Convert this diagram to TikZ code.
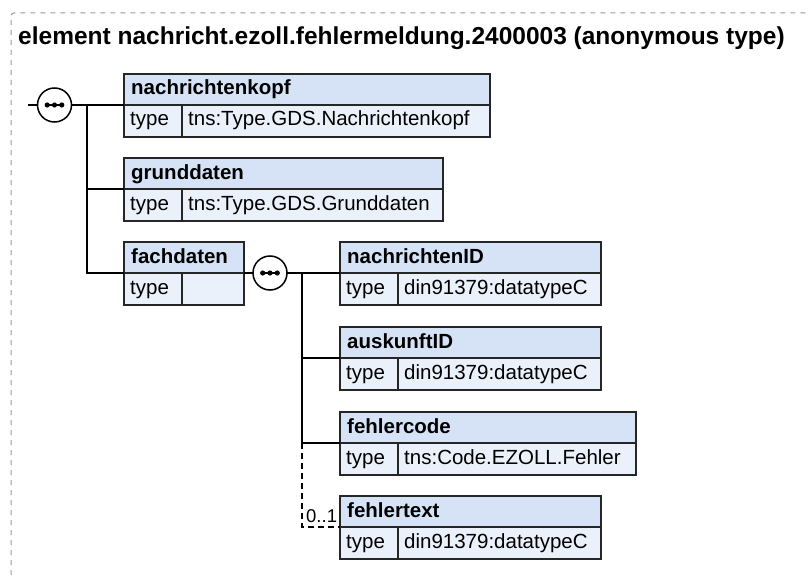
\documentclass[tikz,border=0pt]{standalone}
\usepackage{fontspec}
\setmainfont{Liberation Sans}
\definecolor{hdrfill}{HTML}{D6E3F7}
\definecolor{typefill}{HTML}{EBF1FB}
\definecolor{frameg}{HTML}{9A9A9A}
\newcommand\ebox[6]{%
  \pgfmathsetmacro\vw{#4-58}%
  \node[hdr, minimum width=#4pt] (#1) at (#2,#3) {};
  \node[ttl] (#1-n) at ([shift={(7,21)}]#1.north west) {#5};
  \node[cell, minimum width=58pt] (#1-k) at (#1.south west) {};
  \node[cell, minimum width=\vw pt] (#1-v) at (#1-k.north east) {};
  \node[txt] (#1-tk) at ([shift={(6,21)}]#1-k.north west) {type};
  \node[txt] (#1-tv) at ([shift={(6,21)}]#1-v.north west) {#6};
}
\newcommand\seqdots[1]{%
  \draw[line width=1.4pt] ([xshift=-7.3pt]#1.center) -- ([xshift=7.3pt]#1.center);
  \fill ([xshift=-7.3pt]#1.center) circle (2.6pt);
  \fill (#1.center) circle (2.6pt);
  \fill ([xshift=7.3pt]#1.center) circle (2.6pt);
}
\begin{document}
\begin{tikzpicture}[x=1pt,y=-1pt,
  boxline/.style={draw=black!85, line width=1.5pt},
  hdr/.style={boxline, fill=hdrfill, minimum height=31pt, inner sep=0pt, outer sep=0pt, anchor=north west},
  cell/.style={boxline, fill=typefill, minimum height=32pt, inner sep=0pt, outer sep=0pt, anchor=north west},
  ttl/.style={font=\fontsize{20.5}{24}\selectfont\bfseries, inner sep=0pt, anchor=base west},
  txt/.style={font=\fontsize{20.5}{24}\selectfont, inner sep=0pt, anchor=base west},
  conn/.style={line width=1.7pt, draw=black},
  seq/.style={circle, draw=black, line width=1.5pt, fill=white, minimum size=34pt, inner sep=0pt, outer sep=0pt},
]
\useasboundingbox (0,0) rectangle (808,575);
% frame
\draw[frameg, line width=1pt, dash pattern=on 5pt off 5pt, rounded corners=3pt] (11,575) -- (11,13) -- (808,13);
% title
\node[anchor=base west, inner sep=0pt, font=\fontsize{24.5}{28}\selectfont\bfseries] (title) at (18,45) {element nachricht.ezoll.fehlermeldung.2400003 (anonymous type)};
% boxes
\ebox{nk}{124}{74}{366}{nachrichtenkopf}{tns:Type.GDS.Nachrichtenkopf}
\ebox{gd}{124}{158}{319}{grunddaten}{tns:Type.GDS.Grunddaten}
\ebox{fd}{124}{242}{120}{fachdaten}{}
\ebox{nid}{340}{242}{261}{nachrichtenID}{din91379:datatypeC}
\ebox{aid}{340}{327}{261}{auskunftID}{din91379:datatypeC}
\ebox{fc}{340}{412}{296}{fehlercode}{tns:Code.EZOLL.Fehler}
\ebox{ft}{340}{496}{261}{fehlertext}{din91379:datatypeC}
% sequence 1
\coordinate (in) at (28,105);
\node[seq] (s1) at (54.5,105) {};
\seqdots{s1}
\coordinate (b1) at (87,105);
\draw[conn] (in) -- (s1.west);
\draw[conn] (s1.east) -- (nk.south west);
\draw[conn] (b1) |- (fd.south west);
\draw[conn] (b1 |- gd.south west) -- (gd.south west);
% sequence 2
\node[seq] (s2) at (270,273) {};
\seqdots{s2}
\coordinate (b2) at (302,273);
\draw[conn] (fd.south east) -- (s2.west);
\draw[conn] (s2.east) -- (nid.south west);
\draw[conn] (b2) |- (fc.south west);
\draw[conn] (b2 |- aid.south west) -- (aid.south west);
\draw[conn, line width=1.4pt, dash pattern=on 6pt off 4pt] (b2 |- fc.south west) |- (ft.south west);
\node[txt, font=\fontsize{18.5}{22}\selectfont] (m01) at (306,522) {0..1};
\end{tikzpicture}
\end{document}
